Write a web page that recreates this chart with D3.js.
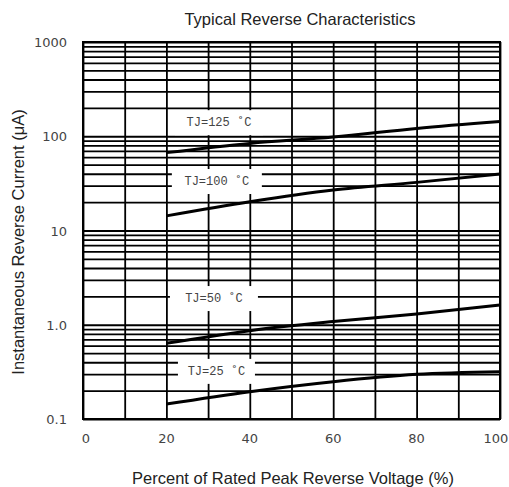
<!DOCTYPE html>
<html>
<head>
<meta charset="utf-8">
<script src="https://cdn.jsdelivr.net/npm/d3@7"></script>
<style>
  body { margin: 0; background: #fff; }
  svg { display: block; }
</style>
</head>
<body>
<svg width="509" height="487"></svg>
<script>
// data
var voltagePct = [20, 40, 60, 80, 100];
var tj125 = [67, 84, 98, 121, 143];
var tj100 = [14.3, 20.2, 26.9, 32.4, 39.8];
var tj50 = [0.635, 0.865, 1.08, 1.30, 1.62];
var tj25 = [0.144, 0.195, 0.249, 0.298, 0.318];
var seriesNames = ["TJ=125 \u02DAC", "TJ=100 \u02DAC", "TJ=50 \u02DAC", "TJ=25 \u02DAC"];
var yTickLabels = ["0.1", "1.0", "10", "100", "1000"];
var yTickValues = [0.1, 1, 10, 100, 1000];
var xTickValues = [0, 20, 40, 60, 80, 100];

var svg = d3.select("svg"),
    width = +svg.attr("width"),
    height = +svg.attr("height");

var margin = {top: 42, right: 9, bottom: 68, left: 83};

var x = d3.scaleLinear()
    .domain([0, 100])
    .range([margin.left, width - margin.right]);

var y = d3.scaleLog()
    .domain([0.1, 1000])
    .range([height - margin.bottom, margin.top]);

// minor + major log grid lines
var yGrid = [];
[0.1, 1, 10, 100].forEach(function(dec) {
  for (var i = 1; i < 10; i++) yGrid.push(dec * i);
});
yGrid.push(1000);

svg.append("g")
    .attr("class", "ygrid")
    .attr("transform", "translate(" + margin.left + ",0)")
    .call(d3.axisLeft(y).tickValues(yGrid).tickSize(-(x(100) - x(0))).tickFormat(""))
    .call(function(g) { g.select(".domain").remove(); })
    .selectAll("line")
    .attr("stroke", "#000")
    .attr("stroke-width", 1.8);

svg.append("g")
    .attr("class", "xgrid")
    .attr("transform", "translate(0," + y(0.1) + ")")
    .call(d3.axisBottom(x).tickValues(d3.range(0, 101, 10)).tickSize(-(y(0.1) - y(1000))).tickFormat(""))
    .call(function(g) { g.select(".domain").remove(); })
    .selectAll("line")
    .attr("stroke", "#000")
    .attr("stroke-width", 1.8);

// frame
svg.append("rect")
    .attr("x", x(0))
    .attr("y", y(1000))
    .attr("width", x(100) - x(0))
    .attr("height", y(0.1) - y(1000))
    .attr("fill", "none")
    .attr("stroke", "#000")
    .attr("stroke-width", 2);

// label boxes (white patches over the grid)
var labelAt = [[32.6, 141], [32.1, 33.5], [31.4, 1.92], [32, 0.324]];
var boxW = [88, 90, 88, 77];

svg.selectAll(".lbox")
    .data(seriesNames)
    .enter().append("rect")
    .attr("class", "lbox")
    .attr("x", function(d, i) { return x(labelAt[i][0]) - boxW[i] / 2; })
    .attr("y", function(d, i) { return y(labelAt[i][1]) - 12; })
    .attr("width", function(d, i) { return boxW[i]; })
    .attr("height", 25)
    .attr("fill", "#fff");

// curves
var allSeries = [tj125, tj100, tj50, tj25];
var line = d3.line()
    .x(function(d, i) { return x(voltagePct[i]); })
    .y(function(d) { return y(d); })
    .curve(d3.curveMonotoneX);

svg.selectAll(".curve")
    .data(allSeries)
    .enter().append("path")
    .attr("class", "curve")
    .attr("d", line)
    .attr("fill", "none")
    .attr("stroke", "#000")
    .attr("stroke-width", 3);

svg.selectAll(".ltext")
    .data(seriesNames)
    .enter().append("text")
    .attr("class", "ltext")
    .attr("x", function(d, i) { return x(labelAt[i][0]); })
    .attr("y", function(d, i) { return y(labelAt[i][1]) + 4; })
    .attr("text-anchor", "middle")
    .style("font-family", "'Liberation Mono', 'Courier New', monospace")
    .style("font-size", "12px")
    .style("fill", "#444")
    .text(function(d) { return d; });

// tick labels
svg.selectAll(".ylab")
    .data(yTickValues)
    .enter().append("text")
    .attr("class", "ylab")
    .attr("x", 67)
    .attr("y", function(d) { return y(d) + 5; })
    .attr("text-anchor", "end")
    .style("font-family", "'DejaVu Sans', sans-serif")
    .style("font-size", "13px")
    .style("fill", "#444")
    .text(function(d, i) { return yTickLabels[i]; });

svg.selectAll(".xlab")
    .data(xTickValues)
    .enter().append("text")
    .attr("class", "xlab")
    .attr("x", function(d) { return d === 100 ? x(d) - 4 : d === 0 ? x(d) + 3 : x(d); })
    .attr("y", y(0.1) + 24)
    .attr("text-anchor", "middle")
    .style("font-family", "'DejaVu Sans', sans-serif")
    .style("font-size", "13px")
    .style("fill", "#444")
    .text(function(d) { return d; });

// titles
svg.append("text")
    .attr("x", 300)
    .attr("y", 25)
    .attr("text-anchor", "middle")
    .style("font-family", "'Liberation Sans', Arial, sans-serif")
    .style("font-size", "16.5px")
    .style("fill", "#222")
    .text("Typical Reverse Characteristics");

svg.append("text")
    .attr("x", 293)
    .attr("y", 484)
    .attr("text-anchor", "middle")
    .style("font-family", "'Liberation Sans', Arial, sans-serif")
    .style("font-size", "16.5px")
    .style("fill", "#222")
    .text("Percent of Rated Peak Reverse Voltage (%)");

svg.append("text")
    .attr("transform", "translate(24,242) rotate(-90)")
    .attr("text-anchor", "middle")
    .style("font-family", "'Liberation Sans', Arial, sans-serif")
    .style("font-size", "16.5px")
    .style("fill", "#222")
    .text("Instantaneous Reverse Current (\u03BCA)");
</script>
</body>
</html>
